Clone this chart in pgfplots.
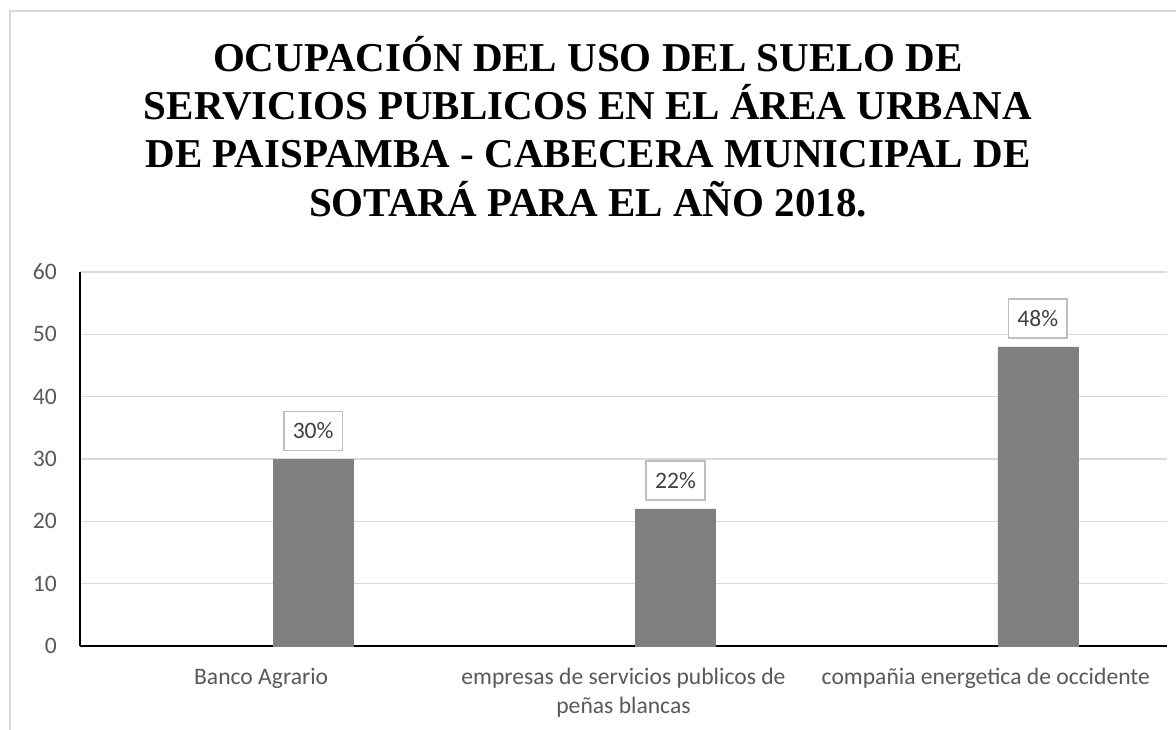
\documentclass[border=0pt]{standalone}
\usepackage{pgfplots}
\pgfplotsset{compat=1.18}
\usepackage{fontspec}
\setmainfont{Carlito}
\newfontfamily\titlefont{Liberation Serif}
\definecolor{barc}{HTML}{808080}
\definecolor{gridc}{HTML}{D9D9D9}
\definecolor{tickc}{HTML}{595959}
\definecolor{lblc}{HTML}{404040}
\definecolor{boxc}{HTML}{BFBFBF}
\begin{document}
\begin{tikzpicture}
\useasboundingbox (0,0) rectangle (1176pt,729pt);
\fill[white] (0,0) rectangle (1176pt,729pt);
\draw[gridc, line width=1.5pt] (10pt,-5pt) -- (10pt,718pt) -- (1190pt,718pt);
\begin{scope}[every node/.style={font=\titlefont\bfseries\fontsize{41pt}{48pt}\selectfont, anchor=base, inner sep=0pt}]
\node at (588pt,657pt) {OCUPACIÓN DEL USO DEL SUELO DE};
\node at (588pt,609pt) {SERVICIOS PUBLICOS EN EL ÁREA URBANA};
\node at (588pt,561pt) {DE PAISPAMBA - CABECERA MUNICIPAL DE};
\node at (588pt,512pt) {SOTARÁ PARA EL AÑO 2018.};
\end{scope}
\begin{axis}[
  at={(80pt,83pt)}, anchor=south west,
  scale only axis, width=1087pt, height=374pt,
  xmin=0, xmax=3, ymin=0, ymax=60,
  ytick={0,10,20,30,40,50,60},
  xtick={0.5,1.5,2.5},
  xticklabels={Banco Agrario,{\begin{tabular}[t]{@{}c@{}}empresas de servicios publicos de\\peñas blancas\end{tabular}},compañia energetica de occidente},
  /pgf/number format/assume math mode=true,
  major tick length=0pt,
  axis x line*=bottom, axis y line*=left,
  axis line style={black, line width=1.5pt, -},
  ymajorgrids, grid style={gridc, line width=1.3pt},
  tick label style={font=\fontsize{23.6pt}{29pt}\selectfont, color=tickc, inner sep=0pt},
  yticklabel style={anchor=east, xshift=-23pt},
  xticklabel style={anchor=base, yshift=-38pt},
  ybar, bar width=80pt, bar shift=52pt,
  nodes near coords={\pgfmathprintnumber{\pgfplotspointmeta}\%},
  every node near coord/.append style={anchor=south, yshift=8pt, draw=boxc, line width=1.5pt, fill=white, text=lblc, font=\fontsize{23.6pt}{29pt}\selectfont, inner xsep=9pt, minimum height=39pt},
]
\addplot[fill=barc, draw=barc] coordinates {(0.5,30) (1.5,22) (2.5,48)};
\end{axis}
\end{tikzpicture}
\end{document}
